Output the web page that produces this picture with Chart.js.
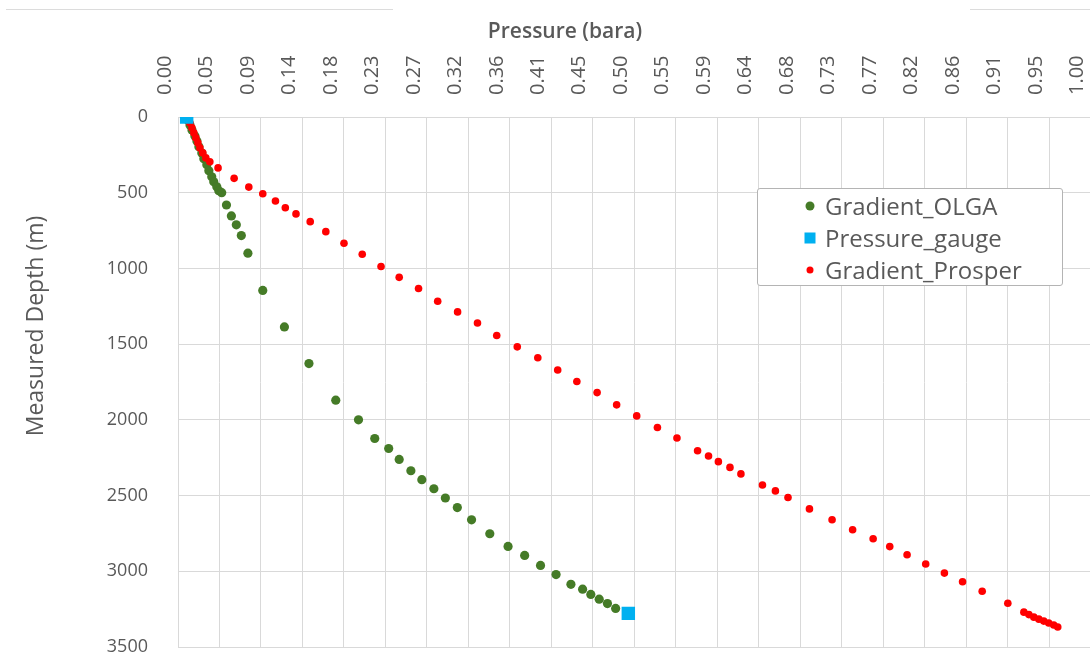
<!DOCTYPE html>
<html>
<head>
<meta charset="utf-8">
<script src="https://cdn.jsdelivr.net/npm/chart.js@4/dist/chart.umd.min.js"></script>
<style>
  html, body { margin: 0; padding: 0; background: #fff; overflow: hidden; }
  #wrap { position: relative; width: 1100px; height: 662px; }
  #depthChart { display: block; }
  #legend {
    position: absolute; left: 757px; top: 188px; width: 306px; height: 98px;
    border: 1px solid #b4b4b4; border-radius: 3px; background: #fff;
    box-sizing: border-box; padding-top: 1px;
    font-family: "Open Sans", sans-serif; font-size: 24px; color: #595959;
  }
  #legend .row { height: 32px; line-height: 32px; padding-left: 44px; white-space: nowrap; }
  #legend .mk { display: inline-block; width: 16px; height: 32px; vertical-align: top; position: relative; margin-right: 7px; }
  #legend .mk i { position: absolute; left: 50%; top: 50%; transform: translate(-50%, -50%); }
</style>
</head>
<body>
<div id="wrap">
  <canvas id="depthChart" width="1100" height="662"></canvas>
  <div id="legend"></div>
</div>
<script>
// tick labels shown on the pressure axis
const xTickLabels = ['0.00','0.05','0.09','0.14','0.18','0.23','0.27','0.32','0.36','0.41','0.45',
  '0.50','0.55','0.59','0.64','0.68','0.73','0.77','0.82','0.86','0.91','0.95','1.00'];

// Gradient_OLGA: pressure (bara) and measured depth (m)
const olgaPressure = [0.0109, 0.0131, 0.0153, 0.0185, 0.0207, 0.0229, 0.0261, 0.0283, 0.0316, 0.0338,
  0.0370, 0.0392, 0.0425, 0.0447, 0.0479, 0.0531, 0.0585, 0.0639, 0.0694, 0.0766, 0.0929, 0.1166,
  0.1435, 0.1729, 0.1978, 0.2156, 0.2309, 0.2424, 0.2552, 0.2672, 0.2804, 0.2930, 0.3061, 0.3217,
  0.3417, 0.3617, 0.3799, 0.3973, 0.4143, 0.4306, 0.4434, 0.4524, 0.4616, 0.4706, 0.4796];
const olgaDepth = [20, 53, 86, 125, 158, 197, 237, 276, 316, 355,
  395, 428, 461, 487, 500, 581, 653, 712, 783, 899, 1145, 1386,
  1628, 1870, 2000, 2123, 2189, 2261, 2336, 2395, 2455, 2516, 2579, 2660,
  2752, 2836, 2895, 2961, 3022, 3086, 3118, 3153, 3184, 3213, 3245];

// Pressure_gauge
const gaugePressure = [0.0095, 0.4935];
const gaugeDepth = [0, 3278];

// Gradient_Prosper
const prosperPressure = [0.0131, 0.0153, 0.0174, 0.0196, 0.0218, 0.0240, 0.0272, 0.0305, 0.0349,
  0.0439, 0.0615, 0.0776, 0.0929, 0.1068, 0.1176, 0.1293, 0.1449, 0.1620, 0.1819, 0.2019, 0.2225,
  0.2424, 0.2636, 0.2846, 0.3064, 0.3282, 0.3493, 0.3718, 0.3943, 0.4161, 0.4371, 0.4593, 0.4807,
  0.5027, 0.5254, 0.5468, 0.5694, 0.5814, 0.5922, 0.6049, 0.6169, 0.6405, 0.6547, 0.6685, 0.6920,
  0.7168, 0.7393, 0.7618, 0.7800, 0.7990, 0.8194, 0.8399, 0.8598, 0.8813, 0.9094,
  0.9270, 0.9325, 0.9379, 0.9434, 0.9488, 0.9542, 0.9597, 0.9641];
const prosperDepth = [39, 72, 105, 138, 171, 204, 237, 270, 296,
  336, 405, 463, 507, 555, 599, 640, 691, 757, 834, 906, 987,
  1059, 1133, 1217, 1287, 1360, 1443, 1518, 1590, 1671, 1747, 1820, 1901,
  1974, 2050, 2120, 2204, 2239, 2276, 2314, 2357, 2430, 2469, 2513, 2588,
  2660, 2726, 2785, 2837, 2891, 2952, 3012, 3069, 3132, 3211,
  3270, 3286, 3303, 3316, 3329, 3342, 3355, 3368];

const xTitle = 'Pressure (bara)';
const yTitle = 'Measured Depth (m)';

const textColor = '#595959';
const gridColor = '#d9d9d9';

function toPoints(xs, ys) {
    return xs.map((x, i) => ({ x: x, y: ys[i] }));
}

// axis titles and the faint frame lines of the original sheet
const decorPlugin = {
    id: 'decor',
    afterDraw(chart) {
        const ctx = chart.ctx;
        ctx.save();
        ctx.strokeStyle = '#dcdcdc';
        ctx.lineWidth = 1;
        ctx.beginPath();
        ctx.moveTo(6, 9.5); ctx.lineTo(393, 9.5);
        ctx.moveTo(970, 9.5); ctx.lineTo(1100, 9.5);
        ctx.stroke();

        ctx.fillStyle = textColor;
        ctx.textAlign = 'center';
        ctx.textBaseline = 'middle';
        ctx.font = '600 21px "Open Sans"';
        ctx.fillText(xTitle, 565, 32);
        ctx.translate(36, 326);
        ctx.rotate(-Math.PI / 2);
        ctx.font = '23px "Open Sans"';
        ctx.fillText(yTitle, 0, 0);
        ctx.restore();
    }
};

// html legend filled from the datasets
const legendPlugin = {
    id: 'htmlLegend',
    afterUpdate(chart) {
        const box = document.getElementById('legend');
        box.innerHTML = '';
        chart.data.datasets.forEach(ds => {
            const row = document.createElement('div');
            row.className = 'row';
            const mk = document.createElement('span');
            mk.className = 'mk';
            const dot = document.createElement('i');
            const size = ds.legendSize;
            dot.style.width = size + 'px';
            dot.style.height = size + 'px';
            dot.style.background = ds.backgroundColor;
            dot.style.borderRadius = ds.pointStyle === 'rect' ? '0' : '50%';
            mk.appendChild(dot);
            row.appendChild(mk);
            row.appendChild(document.createTextNode(ds.label));
            box.appendChild(row);
        });
    }
};

const ctx = document.getElementById('depthChart');

new Chart(ctx, {
    type: 'scatter',
    data: {
        datasets: [{
            label: 'Gradient_OLGA',
            data: toPoints(olgaPressure, olgaDepth),
            backgroundColor: '#457b27',
            borderWidth: 0,
            pointRadius: 4.6,
            pointStyle: 'circle',
            legendSize: 9,
            order: 2
        }, {
            label: 'Pressure_gauge',
            data: toPoints(gaugePressure, gaugeDepth),
            backgroundColor: '#00b0f0',
            borderWidth: 0,
            pointRadius: 9.5,
            pointStyle: 'rect',
            legendSize: 11,
            order: 0
        }, {
            label: 'Gradient_Prosper',
            data: toPoints(prosperPressure, prosperDepth),
            backgroundColor: '#ff0000',
            borderWidth: 0,
            pointRadius: 3.8,
            pointStyle: 'circle',
            legendSize: 7,
            order: 1
        }]
    },
    options: {
        responsive: false,
        animation: false,
        layout: {
            padding: { top: 0, left: 0, right: 4, bottom: 15 }
        },
        scales: {
            x: {
                type: 'linear',
                position: 'top',
                min: 0,
                max: 1,
                afterBuildTicks: (scale) => {
                    scale.ticks = xTickLabels.map((t, i) => ({ value: i / (xTickLabels.length - 1) }));
                },
                afterFit: (scale) => {
                    scale.height = 117;
                    scale.paddingLeft = 0;
                    scale.paddingRight = 0;
                },
                grid: { color: gridColor, lineWidth: 1, drawTicks: false },
                border: { color: gridColor },
                ticks: {
                    autoSkip: false,
                    minRotation: 90,
                    maxRotation: 90,
                    padding: 22,
                    labelOffset: 11,
                    color: textColor,
                    font: { family: "'Open Sans', sans-serif", size: 20 },
                    callback: (value, index) => xTickLabels[index]
                }
            },
            y: {
                type: 'linear',
                reverse: true,
                min: 0,
                max: 3500,
                afterFit: (scale) => {
                    scale.width = 178;
                    scale.paddingTop = 12;
                    scale.paddingBottom = 12;
                },
                grid: { color: gridColor, lineWidth: 1, drawTicks: false },
                border: { color: gridColor },
                ticks: {
                    stepSize: 500,
                    padding: 30,
                    color: textColor,
                    font: { family: "'Open Sans', sans-serif", size: 18 },
                    callback: (value) => String(value)
                }
            }
        },
        plugins: {
            legend: { display: false },
            tooltip: { enabled: false }
        }
    },
    plugins: [decorPlugin, legendPlugin]
});
</script>
</body>
</html>
